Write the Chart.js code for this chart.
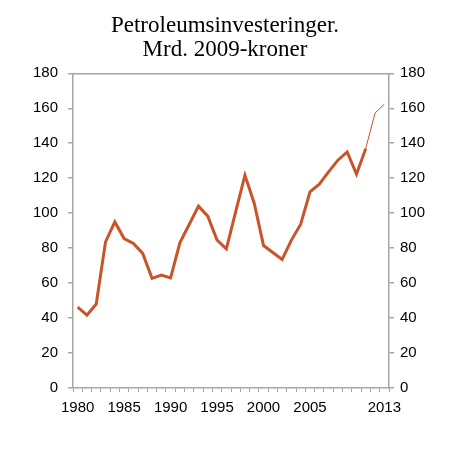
<!DOCTYPE html>
<html>
<head>
<meta charset="utf-8">
<script src="https://cdn.jsdelivr.net/npm/chart.js@4/dist/chart.umd.min.js"></script>
<style>
    html, body { margin: 0; padding: 0; background: #fff; }
    #wrap { width: 450px; height: 453px; }
</style>
</head>
<body>
<div id="wrap"><canvas id="graficoPetro"></canvas></div>
<script>
// Datos del gráfico
const anios = [1980, 1981, 1982, 1983, 1984, 1985, 1986, 1987, 1988, 1989,
               1990, 1991, 1992, 1993, 1994, 1995, 1996, 1997, 1998, 1999,
               2000, 2001, 2002, 2003, 2004, 2005, 2006, 2007, 2008, 2009,
               2010, 2011, 2012, 2013];
const inversiones = [46.3, 41.7, 48, 83.6, 95, 85.5, 82.7, 77, 62.7, 64.6,
                     63, 83, 93.5, 104, 98.3, 84.6, 79.6, 100.8, 121.7, 105.7,
                     81.5, 77.5, 73.5, 84.6, 93.7, 112.2, 116.6, 123.6, 130.3, 135,
                     122.3, 137, 157.3, 162.3];
const aniosConEtiqueta = [1980, 1985, 1990, 1995, 2000, 2005, 2013];
const ultimoReal = 2011; // desde aqui linea fina (proyeccion)
const titulo = ['Petroleumsinvesteringer.', 'Mrd. 2009-kroner'];

const colorLinea = '#C8552A';
const colorEje   = '#A6A6A6';
const fuenteEje  = { family: 'Liberation Sans, Arial, sans-serif', size: 15 };

const idxUltimoReal = anios.indexOf(ultimoReal);

// Eje Y comun (izquierda y derecha)
function ejeY(posicion, ancho, relleno){
    return {
        type: 'linear',
        position: posicion,
        min: 0,
        max: 180,
        ticks: { stepSize: 20, color: '#000', font: fuenteEje, padding: relleno },
        grid:  { drawOnChartArea: false, color: colorEje, lineWidth: 1.5, tickLength: 5 },
        border: { color: colorEje, width: 1.5 },
        afterFit: s => { s.width = ancho; }
    };
}

new Chart(document.getElementById('graficoPetro'), {
    type: 'line',
    data: {
        labels: anios,
        datasets: [{
            label: 'Petroleumsinvesteringer',
            data: inversiones,
            borderColor: colorLinea,
            borderWidth: 3,
            pointRadius: 0,
            tension: 0,
            segment: {
                borderWidth: ctx => ctx.p0DataIndex >= idxUltimoReal ? 1 : 3
            }
        }]
    },
    options: {
        responsive: true,
        maintainAspectRatio: false,
        animation: false,
        layout: { padding: 0 },
        plugins: {
            legend:  { display: false },
            tooltip: { enabled: false },
            title: {
                display: true,
                text: titulo,
                color: '#000',
                font: { family: 'Liberation Serif, Times New Roman, serif', size: 23, weight: 'normal', lineHeight: 1.05 },
                padding: { top: 14, bottom: 11 }
            }
        },
        scales: {
            x: {
                type: 'category',
                offset: true,
                ticks: {
                    autoSkip: false,
                    maxRotation: 0,
                    color: '#000',
                    font: fuenteEje,
                    padding: 7,
                    callback: function(val, i){
                        const a = anios[i];
                        return aniosConEtiqueta.includes(a) ? String(a) : '';
                    }
                },
                grid: { drawOnChartArea: false, offset: true, color: colorEje, lineWidth: 1, tickLength: 4 },
                border: { color: colorEje, width: 1.5 },
                afterFit: s => { s.height = 65; }
            },
            xTop: {
                type: 'category',
                position: 'top',
                offset: true,
                ticks: { display: false },
                grid:  { display: false },
                border: { color: colorEje, width: 1.5 },
                afterFit: s => { s.height = 0; }
            },
            y:  ejeY('left', 73, 10),
            y2: ejeY('right', 61, 6)
        }
    }
});
</script>
</body>
</html>
